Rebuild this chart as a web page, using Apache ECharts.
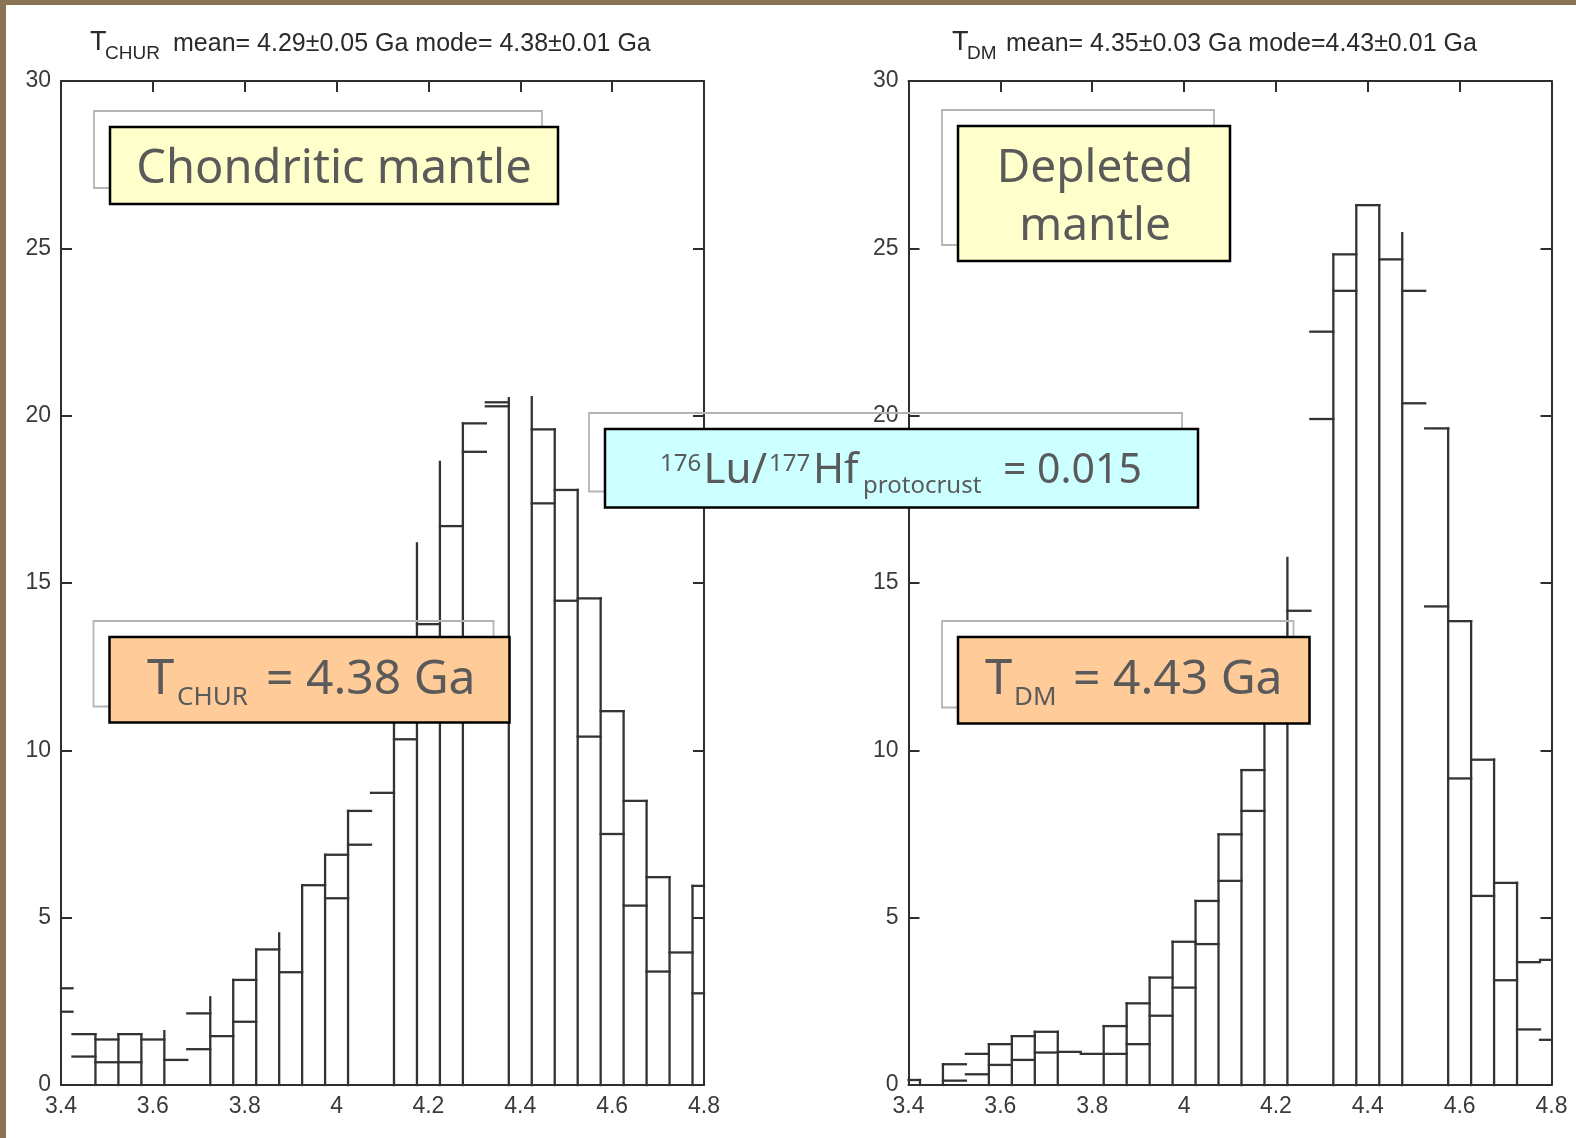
<!DOCTYPE html>
<html>
<head>
<meta charset="utf-8">
<script src="https://cdn.jsdelivr.net/npm/echarts@6/dist/echarts.min.js"></script>
<style>
  html, body { margin: 0; padding: 0; width: 1576px; height: 1138px; background: #8a7453; overflow: hidden; }
  #bg { position: absolute; left: 6px; top: 5px; right: 0; bottom: 0; background: #ffffff; }
  #chart { position: absolute; left: 0; top: 0; width: 1576px; height: 1138px; }
</style>
</head>
<body>
<div id="bg"></div>
<div id="chart"></div>
<script>
// ---------------- DATA ----------------
const xTicks = [3.4, 3.6, 3.8, 4.0, 4.2, 4.4, 4.6, 4.8];
const yTicks = [0, 5, 10, 15, 20, 25, 30];

// histogram bin centres (bin width 0.05 Ga)
const binCenters = [3.40, 3.45, 3.50, 3.55, 3.60, 3.65, 3.70, 3.75, 3.80, 3.85,
                    3.90, 3.95, 4.00, 4.05, 4.10, 4.15, 4.20, 4.25, 4.30, 4.35,
                    4.40, 4.45, 4.50, 4.55, 4.60, 4.65, 4.70, 4.75, 4.80];
// bin edges (where the vertical strokes are drawn)
const binEdges = [3.375, 3.425, 3.475, 3.525, 3.575, 3.625, 3.675, 3.725, 3.775, 3.825,
                  3.875, 3.925, 3.975, 4.025, 4.075, 4.125, 4.175, 4.225, 4.275, 4.325,
                  4.375, 4.425, 4.475, 4.525, 4.575, 4.625, 4.675, 4.725, 4.775, 4.825];

// T_CHUR (chondritic mantle) histogram: upper and lower outline per bin
const churUpper = [2.89, 1.52, 1.36, 1.52, 1.36, 0.75, 2.14, 1.46, 3.14, 4.05,
                   3.37, 5.97, 6.88, 8.19, 8.73, 11.6, 13.77, 16.70, 19.77, 20.40,
                   null, 19.59, 17.78, 14.54, 11.17, 8.49, 6.21, 3.96, 5.95];
const churLower = [2.19, 0.85, 0.68, 0.68, null, null, 1.07, null, 1.89, null,
                   null, null, 5.58, 7.18, null, 10.33, 11.0, null, 18.92, 20.28,
                   null, 17.38, 14.47, 10.41, 7.50, 5.36, 3.39, null, 2.74];
const churEdgeTops = [0, 0, 1.52, 1.52, 1.52, 1.61, 0, 2.62, 3.14, 4.05,
                      4.53, 5.97, 6.88, 8.19, 0, 11.6, 16.18, 18.62, 19.77, 0,
                      20.52, 20.55, 19.59, 17.78, 14.54, 11.17, 8.49, 6.21, 5.95, 0];

// T_DM (depleted mantle) histogram
const dmUpper = [0.15, null, 0.62, 0.93, 1.22, 1.46, 1.59, 0.99, 0.93, 1.76,
                 2.44, 3.21, 4.28, 5.50, 7.49, 9.41, 12.5, 14.17, 22.51, 24.82,
                 26.29, 24.67, 23.73, 19.62, 13.86, 9.72, 6.04, 3.67, 3.74];
const dmLower = [null, null, 0.13, 0.32, 0.60, 0.75, 0.97, null, null, 0.93,
                 1.22, 2.07, 2.91, 4.21, 6.10, 8.19, 11.2, null, 19.9, 23.73,
                 null, null, 20.37, 14.30, 9.16, 5.65, 3.13, 1.66, 1.35];
const dmEdgeTops = [0, 0.15, 0.62, 0, 1.22, 1.46, 1.59, 1.59, 0, 1.76,
                    2.44, 3.21, 4.28, 5.50, 7.49, 9.41, 12.5, 15.75, 0, 24.82,
                    26.29, 26.29, 25.45, 0, 19.62, 13.86, 9.72, 6.04, 0, 0];

const churTitle = 'mean= 4.29\u00b10.05 Ga mode= 4.38\u00b10.01 Ga';
const dmTitle = 'mean= 4.35\u00b10.03 Ga mode=4.43\u00b10.01 Ga';

// ---------------- STYLE ----------------
const LINE = '#333333';
const LW = 2.3;
const AXIS = '#2e2e2e';
const LABEL = '#3a3a3a';
const TXT = '#5a5a5a';
const ANN_FONT = '"Noto Sans", "DejaVu Sans", sans-serif';
const AX_FONT = '"Liberation Sans", Arial, sans-serif';

const xMin = xTicks[0], xMax = xTicks[xTicks.length - 1];
const binW = binCenters[1] - binCenters[0];

function seg(p0, p1) {
  return { type: 'line', shape: { x1: p0[0], y1: p0[1], x2: p1[0], y2: p1[1] },
           style: { stroke: LINE, lineWidth: LW, lineCap: 'square' } };
}

function binSeries(axisIdx, upper, lower) {
  return {
    type: 'custom', xAxisIndex: axisIdx, yAxisIndex: axisIdx, z: 3,
    data: binCenters.map((c, i) => [c, i]),
    encode: { x: 0, y: 1 },
    renderItem: function (params, api) {
      const c = api.value(0), i = api.value(1);
      const a = Math.max(xMin, c - binW / 2), b = Math.min(xMax, c + binW / 2);
      const children = [];
      if (b > a) {
        [upper[i], lower[i]].forEach(v => {
          if (v == null) return;
          children.push(seg(api.coord([a, v]), api.coord([b, v])));
        });
      }
      return { type: 'group', children };
    }
  };
}

function edgeSeries(axisIdx, tops) {
  return {
    type: 'custom', xAxisIndex: axisIdx, yAxisIndex: axisIdx, z: 3,
    data: binEdges.map((e, i) => [e, i]),
    encode: { x: 0, y: 1 },
    renderItem: function (params, api) {
      const e = api.value(0), i = api.value(1);
      const h = tops[i];
      if (!h || e < xMin || e > xMax) return { type: 'group', children: [] };
      return { type: 'group', children: [seg(api.coord([e, 0]), api.coord([e, h]))] };
    }
  };
}

function xAxes(g) {
  const base = { gridIndex: g, type: 'value', min: xMin, max: xMax, interval: 0.2,
                 splitLine: { show: false },
                 axisLine: { show: true, onZero: false, lineStyle: { color: AXIS, width: 2 } } };
  return [
    Object.assign({}, base, { position: 'bottom', axisTick: { show: false },
      axisLabel: { fontSize: 23, color: LABEL, margin: 10, fontFamily: AX_FONT } }),
    Object.assign({}, base, { position: 'top', axisLabel: { show: false },
      axisTick: { show: true, inside: true, length: 11, lineStyle: { color: AXIS, width: 2 } } })
  ];
}
function yAxes(g) {
  const base = { gridIndex: g, type: 'value', min: yTicks[0], max: yTicks[yTicks.length - 1], interval: 5,
                 splitLine: { show: false },
                 axisLine: { show: true, onZero: false, lineStyle: { color: AXIS, width: 2 } },
                 axisTick: { show: true, inside: true, length: 11, lineStyle: { color: AXIS, width: 2 } } };
  return [
    Object.assign({}, base, { position: 'left',
      axisLabel: { fontSize: 23, color: LABEL, margin: 10, fontFamily: AX_FONT } }),
    Object.assign({}, base, { position: 'right', axisLabel: { show: false } })
  ];
}

function txt(x, y, text, size, opts) {
  return Object.assign({ type: 'text', x: x, y: y, z: 120,
    style: Object.assign({ text: text, fontSize: size, fontFamily: ANN_FONT, fill: TXT,
                           align: 'left', verticalAlign: 'middle' }, (opts || {})) });
}
function box(x, y, w, h, fill) {
  return { type: 'rect', z: 110, shape: { x: x, y: y, width: w, height: h },
           style: { fill: fill, stroke: '#000', lineWidth: 2.5 } };
}
function shadow(x, y, w, h) {
  return { type: 'rect', z: 105, shape: { x: x, y: y, width: w, height: h },
           style: { fill: 'none', stroke: '#b4b4b4', lineWidth: 1.8 } };
}
function ttl(x, y, text, size) {
  return { type: 'text', x: x, y: y, z: 120,
           style: { text: text, fontSize: size, fontFamily: AX_FONT, fill: '#2a2a2a',
                    align: 'left', verticalAlign: 'middle' } };
}

const chart = echarts.init(document.getElementById('chart'), null, { renderer: 'canvas' });
chart.setOption({
  animation: false,
  backgroundColor: 'transparent',
  grid: [
    { left: 61, top: 81, width: 643, height: 1004 },
    { left: 908.5, top: 81, width: 643, height: 1004 }
  ],
  xAxis: xAxes(0).concat(xAxes(1)),
  yAxis: yAxes(0).concat(yAxes(1)),
  series: [
    binSeries(0, churUpper, churLower),
    edgeSeries(0, churEdgeTops),
    binSeries(2, dmUpper, dmLower),
    edgeSeries(2, dmEdgeTops)
  ],
  graphic: [
    // titles
    ttl(90, 43, 'T', 27), ttl(105, 54, 'CHUR', 19), ttl(173, 44.5, churTitle, 25),
    ttl(952, 43, 'T', 27), ttl(967, 54, 'DM', 19), ttl(1006, 44.5, dmTitle, 25),

    // Chondritic mantle
    shadow(94, 111, 448, 77),
    box(110, 127, 448, 77, '#ffffcc'),
    txt(334, 170, 'Chondritic mantle', 47, { align: 'center' }),

    // Depleted mantle
    shadow(942, 110, 272, 135),
    box(958, 126, 272, 135, '#ffffcc'),
    txt(1095, 169, 'Depleted', 46, { align: 'center' }),
    txt(1095, 227, 'mantle', 46, { align: 'center' }),

    // 176Lu/177Hf protocrust
    shadow(589, 413, 593, 78.5),
    box(605, 429, 593, 78.5, '#ccffff'),
    txt(660, 464, '176', 24),
    txt(703.5, 471, 'Lu/', 42),
    txt(769, 464, '177', 24),
    txt(813, 471, 'Hf', 42),
    txt(863, 486, 'protocrust', 24),
    txt(1003, 471, '= 0.015', 41),

    // T_CHUR = 4.38 Ga
    shadow(93.5, 621, 400, 85.5),
    box(109.5, 637, 400, 85.5, '#ffcc99'),
    txt(147, 680.5, 'T', 49),
    txt(177, 698, 'CHUR', 26),
    txt(266, 680.5, '= 4.38 Ga', 48),

    // T_DM = 4.43 Ga
    shadow(942, 621, 351.5, 86.5),
    box(958, 637, 351.5, 86.5, '#ffcc99'),
    txt(985, 680.5, 'T', 49),
    txt(1014, 698, 'DM', 26),
    txt(1073, 680.5, '= 4.43 Ga', 48)
  ]
});
</script>
</body>
</html>
